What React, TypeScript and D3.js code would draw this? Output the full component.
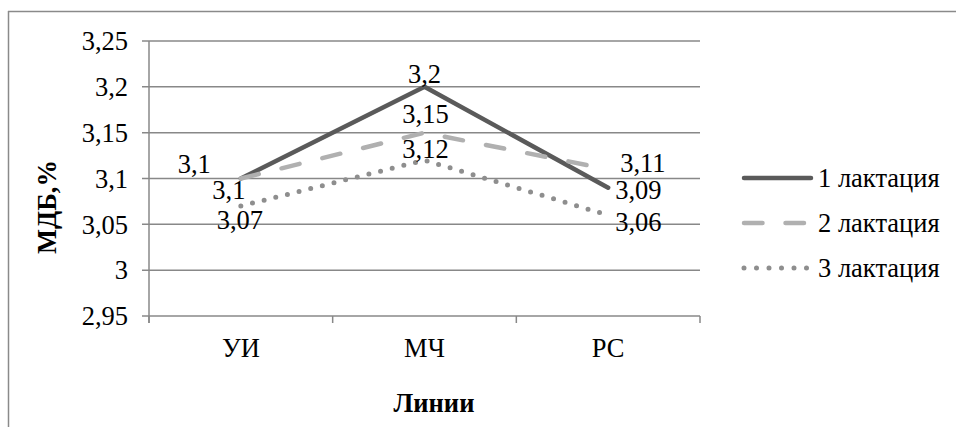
import React from "react";
import * as d3 from "d3";

const categories = ["УИ", "МЧ", "РС"];
const series1 = [3.1, 3.2, 3.09];
const series2 = [3.1, 3.15, 3.11];
const series3 = [3.07, 3.12, 3.06];
const seriesNames = ["1 лактация", "2 лактация", "3 лактация"];
const yTicks = [2.95, 3, 3.05, 3.1, 3.15, 3.2, 3.25];
const yTitle = "МДБ,%";
const xTitle = "Линии";

const W = 956;
const H = 427;
const left = 149;
const right = 700;
const top = 41;
const bottom = 316;
const FONT = '"Liberation Serif"';
const FS = 26.5;

const fmt = (v: number) => String(v).replace(".", ",");

const styles = [
  { stroke: "#5a5a5a", width: 4.5, dash: "", cap: "round" },
  { stroke: "#b0b0b0", width: 4.5, dash: "18.5,23.5", cap: "round" },
  { stroke: "#8e8e8e", width: 5, dash: "0,12", cap: "round" },
];
const legendDash = ["", "18.5,23", "0,12.5"];

// label offsets (dx, dy, anchor) per series per category
const labelOffsets = [
  [[-30, -6, "end"], [0, -4, "middle"], [7, 11, "start"]],
  [[-12, 20, "middle"], [1, -10, "middle"], [12, 3, "start"]],
  [[-1, 23, "middle"], [1, -2, "middle"], [7, 16, "start"]],
];

function T(props: any) {
  const { children, bold, ...rest } = props;
  return (
    <text
      fontFamily="Liberation Serif"
      fontSize={FS}
      fontWeight={bold ? "bold" : "normal"}
      fill="#000"
      style={{ fontFamily: FONT }}
      {...rest}
    >
      {children}
    </text>
  );
}

export default function App() {
  const x = d3.scaleBand<string>().domain(categories).range([left, right]);
  const y = d3.scaleLinear().domain([2.95, 3.25]).range([bottom, top]);
  const cx = (c: string) => (x(c) as number) + x.bandwidth() / 2;
  const data = [series1, series2, series3];
  const line = d3
    .line<number>()
    .x((_, i) => cx(categories[i]))
    .y((v) => y(v));
  const grid = "#888888";
  const xTickPos = [left, ...categories.map((c) => (x(c) as number) + x.bandwidth())];
  const legendY = [178, 223, 268];

  return (
    <svg
      width={W}
      height={H}
      style={{ position: "absolute", left: 0, top: 0, background: "#fff" }}
    >
      <style>{`text { font-family: "Liberation Serif", "Times New Roman", Tinos, Times !important; }`}</style>
      <rect x={0} y={0} width={W} height={H} fill="#fff" />
      {/* outer frame */}
      <line x1={8} y1={11.5} x2={W} y2={11.5} stroke="#8a8a8a" strokeWidth={1.5} />
      <line x1={8.5} y1={11} x2={8.5} y2={H} stroke="#8a8a8a" strokeWidth={1.5} />

      {/* gridlines */}
      {yTicks.map((t) => (
        <g key={t}>
          <line x1={142} x2={right} y1={y(t)} y2={y(t)} stroke={grid} strokeWidth={1.5} />
          <T x={128} y={y(t)} dy="0.35em" textAnchor="end">
            {fmt(t)}
          </T>
        </g>
      ))}
      {/* y axis */}
      <line x1={left} x2={left} y1={top} y2={bottom + 7} stroke={grid} strokeWidth={1.5} />
      {/* x ticks */}
      {xTickPos.map((p, i) => (
        <line key={i} x1={p} x2={p} y1={bottom} y2={bottom + 7} stroke={grid} strokeWidth={1.5} />
      ))}
      {categories.map((c) => (
        <T key={c} x={cx(c)} y={357} textAnchor="middle">
          {c}
        </T>
      ))}

      {/* series lines */}
      {data.map((s, i) => (
        <path
          key={i}
          d={line(s) || ""}
          fill="none"
          stroke={styles[i].stroke}
          strokeWidth={styles[i].width}
          strokeDasharray={styles[i].dash || undefined}
          strokeLinecap={styles[i].cap as any}
          strokeLinejoin="round"
        />
      ))}

      {/* data labels */}
      {data.map((s, i) =>
        s.map((v, j) => {
          const [dx, dy, anchor] = labelOffsets[i][j] as [number, number, string];
          return (
            <T key={`${i}-${j}`} x={cx(categories[j]) + dx} y={y(v) + dy} textAnchor={anchor}>
              {fmt(v)}
            </T>
          );
        })
      )}

      {/* axis titles */}
      <T transform={`translate(56, 207) rotate(-90)`} textAnchor="middle" bold>
        {yTitle}
      </T>
      <T x={434} y={412} textAnchor="middle" bold>
        {xTitle}
      </T>

      {/* legend */}
      {seriesNames.map((n, i) => (
        <g key={n}>
          <line
            x1={744}
            x2={811}
            y1={legendY[i]}
            y2={legendY[i]}
            stroke={styles[i].stroke}
            strokeWidth={styles[i].width}
            strokeDasharray={legendDash[i] || undefined}
            strokeLinecap="round"
          />
          <T x={818} y={legendY[i] + 9}>
            {n}
          </T>
        </g>
      ))}
    </svg>
  );
}
